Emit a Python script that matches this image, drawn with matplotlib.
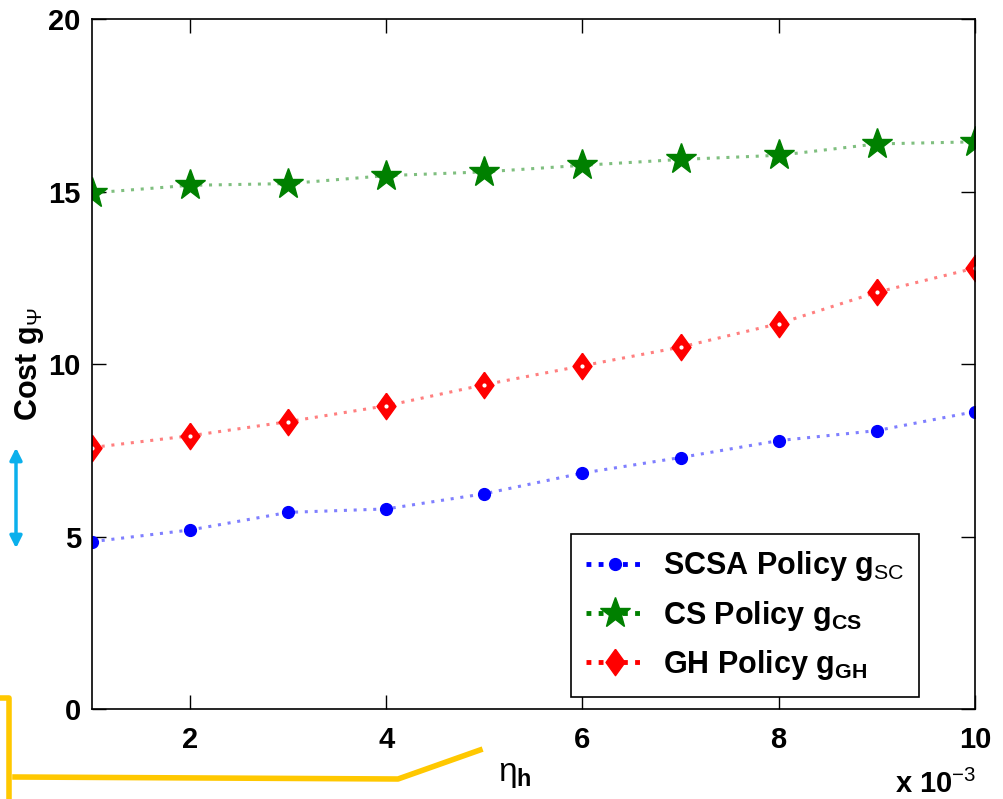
import numpy as np
import matplotlib
matplotlib.use("Agg")
import matplotlib.pyplot as plt
from matplotlib.lines import Line2D

plt.rcParams['font.family'] = ['Liberation Sans', 'DejaVu Sans']
plt.rcParams['mathtext.fontset'] = 'custom'
plt.rcParams['mathtext.rm'] = 'Liberation Sans'
plt.rcParams['mathtext.bf'] = 'Liberation Sans:bold'
plt.rcParams['mathtext.it'] = 'Liberation Sans:italic'

eta = [1, 2, 3, 4, 5, 6, 7, 8, 9, 10]
scsa = [4.85, 5.19, 5.70, 5.80, 6.24, 6.84, 7.29, 7.78, 8.07, 8.62]
cs = [14.96, 15.18, 15.23, 15.46, 15.57, 15.76, 15.93, 16.05, 16.38, 16.44]
gh = [7.58, 7.92, 8.33, 8.79, 9.40, 9.95, 10.49, 11.17, 12.08, 12.78]

labels = [r'SCSA Policy g$_{\mathrm{SC}}$',
          r'CS Policy g$_{\mathbf{CS}}$',
          r'GH Policy g$_{\mathbf{GH}}$']

# narrow diamond like the matlab one
diamond = [(0, 1), (0.72, 0), (0, -1), (-0.72, 0), (0, 1)]

fig = plt.figure(figsize=(10.04, 7.99), dpi=100)
ax = fig.add_axes([0.0916, 0.1126, 0.8794, 0.8636])

dots = (0, (1, 2.2))
ax.plot(eta, scsa, color='blue', ls=dots, lw=2.2, alpha=0.5)
ax.plot(eta, cs, color='green', ls=dots, lw=2.2, alpha=0.5)
ax.plot(eta, gh, color='red', ls=dots, lw=2.2, alpha=0.5)
ax.plot(eta, scsa, ls='none', marker='o', ms=8.5, color='blue')
ax.plot(eta, cs, ls='none', marker='*', ms=23, color='green')
ax.plot(eta, gh, ls='none', marker=diamond, ms=19, color='red')
ax.plot(eta, gh, ls='none', marker='o', ms=2, color='white')

handles = [
    Line2D([], [], color='blue', ls=(0, (1, 1.5)), lw=3.5, marker='o', ms=8.5),
    Line2D([], [], color='green', ls=(0, (1, 1.5)), lw=3.5, marker='*', ms=23),
    Line2D([], [], color='red', ls=(0, (1, 1.5)), lw=3.5, marker=diamond, ms=19),
]
leg = ax.legend(handles, labels, loc='lower right', bbox_to_anchor=(0.937, 0.017),
                prop={'size': 22, 'weight': 'bold'}, fancybox=False,
                edgecolor='black', framealpha=1, handlelength=1.9,
                handletextpad=0.6, labelspacing=0.5, borderpad=0.5,
                borderaxespad=0)
leg.get_frame().set_linewidth(1.2)

ax.set_xlim(1, 10)
ax.set_ylim(0, 20)
ax.set_xticks([2, 4, 6, 8, 10])
ax.set_yticks([0, 5, 10, 15, 20])
ax.tick_params(direction='in', length=10, width=1, top=True, right=True,
               labelsize=21, pad=12)
for t in ax.get_xticklabels() + ax.get_yticklabels():
    t.set_fontweight('bold')
ax.tick_params(axis='y', pad=8)
for s in ax.spines.values():
    s.set_linewidth(1.2)

ax.set_ylabel(r'Cost g$_{\mathrm{\Psi}}$', fontsize=22, fontweight='bold', labelpad=2)
ax.text(0.479, -0.095, r'$\mathrm{\eta}_{\mathbf{h}}$', transform=ax.transAxes,
        fontsize=24, ha='center', va='center')
fig.text(0.972, 0.0, r'x 10$^{\mathrm{-3}}$', fontsize=21, fontweight='bold',
         ha='right', va='bottom')

# overlay annotations (blue double arrow, yellow bracket)
ax.annotate('', xy=(16 / 1004, 1 - 445 / 799), xytext=(16 / 1004, 1 - 551 / 799),
            xycoords='figure fraction', textcoords='figure fraction',
            arrowprops=dict(arrowstyle='<|-|>', color='#0bb0ec', lw=2.5,
                            mutation_scale=18))
yellow = '#ffc800'
fig.add_artist(Line2D([0, 9 / 1004, 9 / 1004], [1 - 698 / 799, 1 - 698 / 799, 0],
                      color=yellow, lw=4, transform=fig.transFigure))
fig.add_artist(Line2D([15 / 1004, 398 / 1004, 480 / 1004],
                      [1 - 777 / 799, 1 - 779 / 799, 1 - 750 / 799],
                      color=yellow, lw=4, transform=fig.transFigure))

fig.savefig('out.png', dpi=100)
